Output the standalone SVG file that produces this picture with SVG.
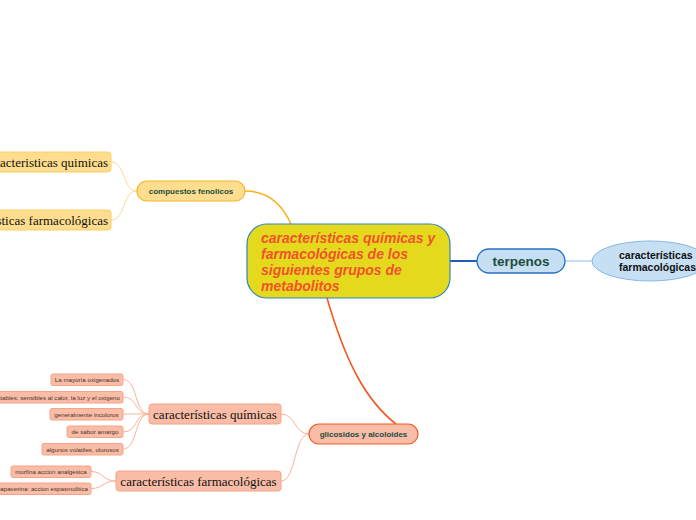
<svg xmlns="http://www.w3.org/2000/svg" width="696" height="520" viewBox="0 0 696 520">
<style>
.c{fill:none}
.lf rect{fill:#f9bca6;stroke:#f5a487;stroke-width:1}
.lf text{font-family:"Liberation Sans",Arial,sans-serif;font-size:6.2px;fill:#4a3328;text-anchor:middle}
.ser{font-family:"Liberation Serif","Times New Roman",serif;font-size:13px;fill:#111}
.bl{font-family:"Liberation Sans",Arial,sans-serif;font-weight:bold;font-size:8px;fill:#1b4d3e;text-anchor:middle}
</style>
<rect width="696" height="520" fill="#fff"/>
<g id="connectors" class="c">
<path d="M450,261 H477" stroke="#1d5fb8" stroke-width="2"/>
<path d="M565,261 H592" stroke="#8dbbe6" stroke-width="1"/>
<path d="M245,191 C268,191 282,204 291,224" stroke="#f7b21c" stroke-width="1.6"/>
<path d="M137,191 C122,191 126,162 111,162" stroke="#fcd98c" stroke-width="1"/>
<path d="M137,191 C122,191 126,220 111,220" stroke="#fcd98c" stroke-width="1"/>
<path d="M327,298 C345,360 365,400 396,424" stroke="#f15a24" stroke-width="1.6"/>
<path d="M309,434 C294,434 296,414 281,414" stroke="#f9b49c" stroke-width="1"/>
<path d="M309,434 C294,434 296,481 281,481" stroke="#f9b49c" stroke-width="1"/>
<g stroke="#f9b49c" stroke-width="1">
<path d="M149,414 C134,414 138,379.5 123,379.5"/>
<path d="M149,414 C134,414 138,397 123,397"/>
<path d="M149,414 H123"/>
<path d="M149,414 C134,414 138,432 123,432"/>
<path d="M149,414 C134,414 138,449 123,449"/>
<path d="M116,481 C102,481 104,471.5 91,471.5"/>
<path d="M116,481 C102,481 104,488.5 91,488.5"/>
</g>
</g>
<g id="central">
<rect x="247" y="224" width="203" height="74" rx="20" fill="#e5d91e" stroke="#2e85c5" stroke-width="1.2"/>
<text font-family="'Liberation Sans',Arial,sans-serif" font-weight="bold" font-style="italic" font-size="14" fill="#f0532a">
<tspan x="261" y="243">características químicas y</tspan>
<tspan x="261" y="259">farmacológicas de los</tspan>
<tspan x="261" y="275">siguientes grupos de</tspan>
<tspan x="261" y="291">metabolitos</tspan>
</text>
</g>
<g id="terpenos">
<rect x="477" y="249" width="88" height="24" rx="12" fill="#c7dff2" stroke="#2872c8" stroke-width="1.3"/>
<text x="521" y="266" font-family="'Liberation Sans',Arial,sans-serif" font-weight="bold" font-size="13.5" fill="#1b4d3e" text-anchor="middle">terpenos</text>
</g>
<g id="terpenos-farm">
<ellipse cx="650" cy="261" rx="58" ry="20" fill="#c7dff2" stroke="#86b8e6" stroke-width="1"/>
<text font-family="'Liberation Sans',Arial,sans-serif" font-weight="bold" font-size="10.5" fill="#111">
<tspan x="619" y="259">características</tspan>
<tspan x="619" y="271">farmacológicas</tspan>
</text>
</g>
<g id="compuestos">
<rect x="137" y="181" width="108" height="20" rx="10" fill="#fedd8e" stroke="#f7b52a" stroke-width="1.2"/>
<text class="bl" x="191" y="194">compuestos fenolicos</text>
</g>
<g id="cf-quimicas">
<rect x="-20" y="152" width="131" height="20" rx="3" fill="#fedd8e" stroke="#f9cf6a"/>
<text class="ser" x="108" y="166.5" text-anchor="end">caracteristicas quimicas</text>
</g>
<g id="cf-farm">
<rect x="-20" y="210" width="131" height="20" rx="3" fill="#fedd8e" stroke="#f9cf6a"/>
<text class="ser" x="108" y="224.5" text-anchor="end">caracteristicas farmacológicas</text>
</g>
<g id="glicosidos">
<rect x="309" y="424" width="109" height="20" rx="10" fill="#f9bca6" stroke="#f15a24" stroke-width="1.2"/>
<text class="bl" x="363.5" y="437">glicosidos y alcoloides</text>
</g>
<g id="ga-quimicas">
<rect x="149" y="404" width="132" height="20" rx="3" fill="#f9bca6" stroke="#f5a487"/>
<text class="ser" x="215" y="418.5" text-anchor="middle">características químicas</text>
</g>
<g id="ga-farm">
<rect x="116" y="471" width="165" height="20" rx="3" fill="#f9bca6" stroke="#f5a487"/>
<text class="ser" x="198.5" y="485.5" text-anchor="middle">características farmacológicas</text>
</g>
<g id="leaf1" class="lf"><rect x="51" y="374" width="72" height="11.5" rx="2"/><text x="87" y="382">La mayoría oxigenados</text></g>
<g id="leaf2" class="lf"><rect x="-20" y="391.5" width="143" height="11.5" rx="2"/><text x="120" y="399.5" style="text-anchor:end">Inestables: sensibles al calor, la luz y el oxigeno</text></g>
<g id="leaf3" class="lf"><rect x="50" y="408.5" width="73" height="11.5" rx="2"/><text x="86.5" y="416.5">generalmente incoloros</text></g>
<g id="leaf4" class="lf"><rect x="67" y="426" width="56" height="11.5" rx="2"/><text x="95" y="434">de sabor amargo</text></g>
<g id="leaf5" class="lf"><rect x="42" y="443.5" width="81" height="11.5" rx="2"/><text x="82.5" y="451.5">algunos volatiles, olorosos</text></g>
<g id="leaf6" class="lf"><rect x="11" y="466" width="80" height="11.5" rx="2"/><text x="51" y="474">morfina accion analgesica</text></g>
<g id="leaf7" class="lf"><rect x="-20" y="483" width="111" height="11.5" rx="2"/><text x="88" y="491" style="text-anchor:end">papaverina: accion espasmolitica</text></g>
</svg>
